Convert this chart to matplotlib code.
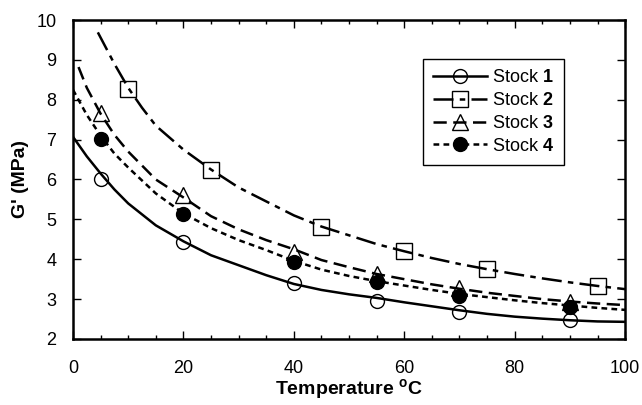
import matplotlib
matplotlib.use("Agg")
import matplotlib.pyplot as plt
from matplotlib.ticker import MultipleLocator

plt.rcParams["font.family"] = ["Liberation Sans", "DejaVu Sans"]
plt.rcParams["mathtext.fontset"] = "custom"
plt.rcParams["mathtext.rm"] = "Liberation Sans"
plt.rcParams["mathtext.bf"] = "Liberation Sans:bold"

# measured points
temp_pts = [5, 20, 40, 55, 70, 90]
temp_pts_2 = [10, 25, 45, 60, 75, 95]
stock1_pts = [6.00, 4.43, 3.40, 2.96, 2.68, 2.47]
stock2_pts = [8.27, 6.25, 4.81, 4.21, 3.75, 3.33]
stock3_pts = [7.66, 5.62, 4.19, 3.62, 3.27, 2.93]
stock4_pts = [7.02, 5.13, 3.94, 3.44, 3.08, 2.81]

# fitted curves
curve_t = [0, 2.5, 5, 7.5, 10, 15, 20, 25, 30, 35, 40, 45, 50, 55, 60, 65, 70, 75, 80, 85, 90, 95, 100]
stock1_fit = [7.07, 6.58, 6.15, 5.75, 5.40, 4.85, 4.45, 4.10, 3.85, 3.60, 3.38, 3.23, 3.12, 3.03,
              2.92, 2.82, 2.72, 2.63, 2.56, 2.51, 2.47, 2.44, 2.43]
stock4_fit = [8.25, 7.62, 7.10, 6.65, 6.30, 5.65, 5.15, 4.78, 4.48, 4.23, 3.96, 3.74, 3.58, 3.45,
              3.34, 3.23, 3.13, 3.05, 2.97, 2.90, 2.84, 2.78, 2.73]
curve_t3 = [1, 2.5, 5, 7.5, 10, 15, 20, 25, 30, 35, 40, 45, 50, 55, 60, 65, 70, 75, 80, 85, 90, 95, 100]
stock3_fit = [8.82, 8.30, 7.65, 7.12, 6.70, 6.00, 5.55, 5.08, 4.75, 4.48, 4.25, 3.98, 3.80, 3.63,
              3.50, 3.37, 3.26, 3.16, 3.08, 3.00, 2.94, 2.89, 2.85]
curve_t2 = [4.5, 7.5, 10, 12.5, 15, 20, 25, 30, 35, 40, 45, 50, 55, 60, 65, 70, 75, 80, 85, 90, 95, 100]
stock2_fit = [9.69, 8.90, 8.30, 7.80, 7.35, 6.75, 6.25, 5.80, 5.45, 5.10, 4.82, 4.60, 4.38,
              4.20, 4.03, 3.88, 3.75, 3.63, 3.52, 3.42, 3.33, 3.25]

fig = plt.figure(figsize=(6.42, 4.05), dpi=100)
ax = fig.add_axes([0.1137, 0.163, 0.86, 0.7876])

lw = 1.8
ls2 = (0, (8, 2.5, 2.2, 2.5))
ls3 = (0, (5.3, 2.6))
ls4 = (0, (2.3, 1.7))
mk = dict(fillstyle="none", markeredgecolor="black", markeredgewidth=1.0, linestyle="none")

ax.plot(curve_t, stock1_fit, color="black", lw=lw, linestyle="-")
ax.plot(curve_t2, stock2_fit, color="black", lw=lw, linestyle=ls2)
ax.plot(curve_t3, stock3_fit, color="black", lw=lw, linestyle=ls3)
ax.plot(curve_t, stock4_fit, color="black", lw=lw, linestyle=ls4)

ax.plot(temp_pts, stock1_pts, marker="o", markersize=10, **mk)
ax.plot(temp_pts_2, stock2_pts, marker="s", markersize=11, **mk)
ax.plot(temp_pts, stock3_pts, marker="^", markersize=11, **mk)
ax.plot(temp_pts, stock4_pts, marker="o", markersize=10, color="black", linestyle="none")

# legend handles
h1, = ax.plot([], [], color="black", lw=lw, linestyle="-", marker="o", markersize=10,
              fillstyle="none", markeredgewidth=1.0)
h2, = ax.plot([], [], color="black", lw=lw, linestyle=ls2, marker="s", markersize=11,
              fillstyle="none", markeredgewidth=1.0)
h3, = ax.plot([], [], color="black", lw=lw, linestyle=ls3, marker="^", markersize=11,
              fillstyle="none", markeredgewidth=1.0)
h4, = ax.plot([], [], color="black", lw=lw, linestyle=ls4, marker="o", markersize=10)
leg = ax.legend([h1, h2, h3, h4],
                [r"Stock $\mathbf{1}$", r"Stock $\mathbf{2}$", r"Stock $\mathbf{3}$", r"Stock $\mathbf{4}$"],
                loc="upper left", bbox_to_anchor=(0.617, 0.905), fontsize=13,
                handlelength=3.0, handletextpad=0.3, labelspacing=0.32,
                borderpad=0.55, fancybox=False, framealpha=1, edgecolor="black")
leg.get_frame().set_linewidth(1.0)

ax.set_xlim(0, 100)
ax.set_ylim(2, 10)
ax.xaxis.set_major_locator(MultipleLocator(20))
ax.xaxis.set_minor_locator(MultipleLocator(5))
ax.yaxis.set_major_locator(MultipleLocator(1))
ax.tick_params(axis="both", which="major", direction="in", labelsize=13, length=6, width=1,
               top=True, right=True)
ax.tick_params(axis="x", which="major", pad=15)
ax.tick_params(axis="y", which="major", pad=12)
ax.tick_params(axis="x", which="minor", direction="in", length=3, width=1, top=True)
for s in ax.spines.values():
    s.set_linewidth(1.8)

ax.set_xlabel(r"Temperature $^{\mathbf{o}}$C", fontsize=14, fontweight="bold", labelpad=0)
ax.set_ylabel("G' (MPa)", fontsize=14, fontweight="bold", labelpad=5)

fig.savefig("out.png", dpi=100)
